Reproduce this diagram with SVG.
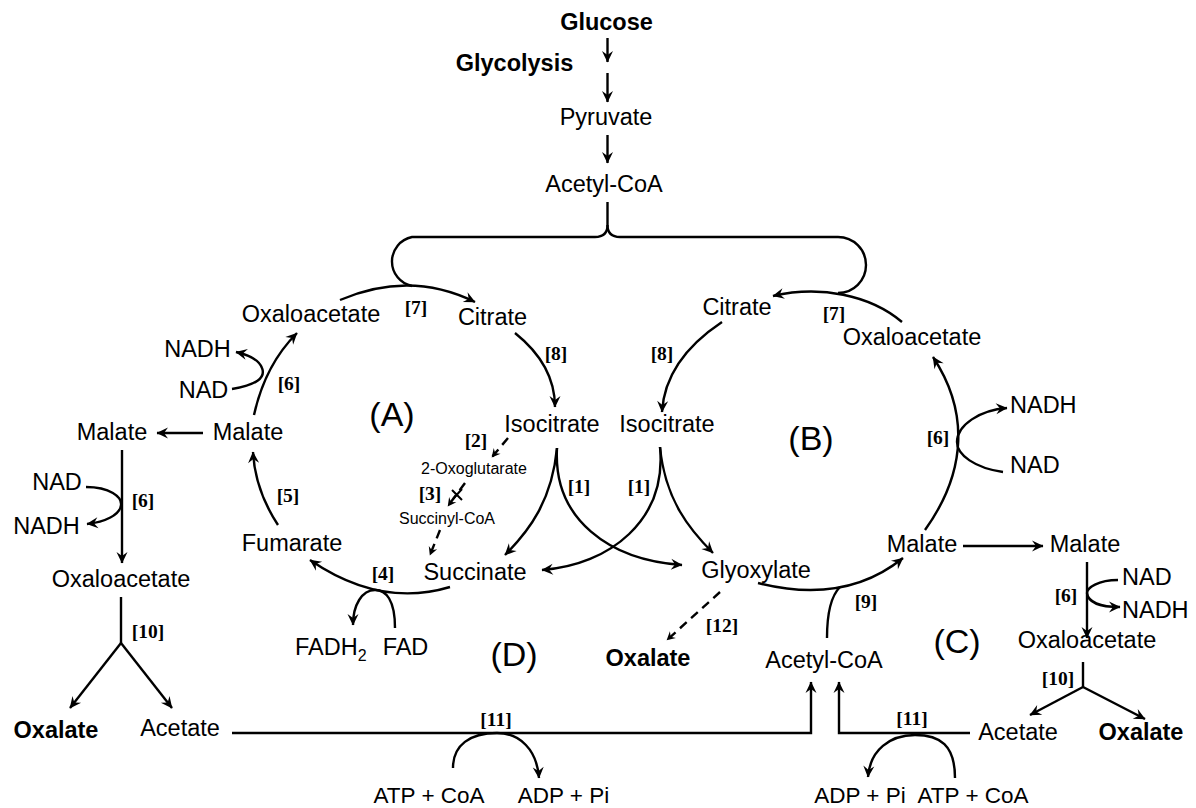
<svg xmlns="http://www.w3.org/2000/svg" width="1196" height="808" viewBox="0 0 1196 808">
<style>
text{font-family:"Liberation Sans",Arial,sans-serif;font-size:23.5px;fill:#000;text-anchor:middle}
.b{font-weight:bold}
.s{font-size:16px}
.st{text-anchor:start}
.e{font-size:22.5px}
.n{font-family:"Liberation Serif","Times New Roman",serif;font-weight:bold;font-size:19.5px}
.r{font-size:34px}
.c path,.c line{fill:none;stroke:#000;stroke-width:2.4}
.c .a{marker-end:url(#ah)}
.c .d{stroke-dasharray:9 6;marker-end:url(#sh)}
</style>
<defs>
<marker id="ah" viewBox="-12 -6 13 12" refX="0" refY="0" markerWidth="13" markerHeight="12" markerUnits="userSpaceOnUse" orient="auto">
<path d="M0.5,0 L-11,-5.5 L-7,0 L-11,5.5 Z" fill="#000"/>
</marker>
<marker id="sh" viewBox="-9 -5 10 10" refX="0" refY="0" markerWidth="10" markerHeight="10" markerUnits="userSpaceOnUse" orient="auto">
<path d="M0.5,0 L-8,-4.5 L-5,0 L-8,4.5 Z" fill="#000"/>
</marker>
</defs>
<rect width="1196" height="808" fill="#fff"/>
<g id="connectors" class="c">
<path class="a" d="M607.5,38 L607.5,62"/>
<path class="a" d="M607.5,73 L607.5,102"/>
<path class="a" d="M607.5,135 L607.5,163"/>
<path d="M607.5,202 L607.5,225 Q607.5,237 595,237 L412,237 A25,25 0 0 0 412,286"/>
<path d="M607.5,225 Q607.5,237 620,237 L838,237 A28,28 0 0 1 838,293"/>
<path class="a" d="M340,300 Q410,270 475,302"/>
<path class="a" d="M902,322 C870,295 820,285 773,296"/>
<path class="a" d="M515,333 Q555,365 555,407"/>
<path class="a" d="M722,322 Q665,360 662,412"/>
<path class="a" d="M254,415 Q265,365 297,333"/>
<path class="a" d="M232,389 Q268,383 262,368 Q258,357 236,352"/>
<path class="a" d="M278,525 Q255,490 253,452"/>
<path class="a" d="M450,587 Q380,608 310,560"/>
<path class="a" d="M395,628 C395,600 386,590 375,590 C362,590 353,605 353,625"/>
<path class="a" d="M557,448 C552,500 530,530 505,555"/>
<path class="a" d="M557,448 C553,520 610,560 682,565"/>
<path class="a" d="M660,447 C665,500 690,530 713,553"/>
<path class="a" d="M660,447 C667,520 610,565 542,570"/>
<path class="d" d="M508,438 L492,457"/>
<path class="d" d="M465,483 L448,506"/>
<path d="M452,490 L462,500 M462,489 L453,499" style="stroke-width:2"/>
<path class="d" d="M440,530 L430,555"/>
<path class="d" d="M720,592 L667,640"/>
<path class="a" d="M758,583 Q845,605 903,558"/>
<path d="M827,638 Q827,600 840,587"/>
<path class="a" d="M925,530 C968,470 968,410 933,357"/>
<path class="a" d="M1003,472 C975,468 957,455 957,442 C957,425 980,410 1007,408"/>
<path class="a" d="M963,546 L1043,546"/>
<path class="a" d="M1087,562 L1087,638"/>
<path class="a" d="M1118,580 C1098,580 1087,588 1087,593 C1088,602 1100,607 1120,607"/>
<path d="M1083,662 L1083,687"/>
<path class="a" d="M1083,687 L1030,715"/>
<path class="a" d="M1083,687 L1145,719"/>
<path class="a" d="M970,733 L839,733 L839,682"/>
<path class="a" d="M955,778 C955,745 940,735 915,735 C890,735 870,750 868,777"/>
<path class="a" d="M232,733 L811,733 L811,682"/>
<path class="a" d="M453,768 C453,745 470,733 497,733 C520,733 537,750 539,778"/>
<path class="a" d="M203,433 L157,433"/>
<path class="a" d="M122,450 L122,563"/>
<path class="a" d="M86,487 C110,487 122,497 121,505 C120,515 105,522 87,524"/>
<path d="M121,597 L121,643"/>
<path class="a" d="M121,643 L70,708"/>
<path class="a" d="M121,643 L172,708"/>
</g>
<g id="glucose"><text class="b" x="606.5" y="30">Glucose</text></g>
<g id="glycolysis"><text class="b" x="514.5" y="71">Glycolysis</text></g>
<g id="pyruvate"><text x="606" y="125">Pyruvate</text></g>
<g id="acetylcoa-top"><text x="604" y="192">Acetyl-CoA</text></g>
<g id="oaa-a"><text x="311" y="322">Oxaloacetate</text></g>
<g id="citrate-a"><text x="492.5" y="325">Citrate</text></g>
<g id="nadh-a"><text x="197.5" y="357">NADH</text></g>
<g id="nad-a"><text x="203.5" y="398">NAD</text></g>
<g id="malate-a"><text x="248" y="440">Malate</text></g>
<g id="malate-fl"><text x="112" y="440">Malate</text></g>
<g id="isocitrate-a"><text x="552" y="432">Isocitrate</text></g>
<g id="isocitrate-b"><text x="667" y="432">Isocitrate</text></g>
<g id="nad-fl"><text x="57" y="490">NAD</text></g>
<g id="nadh-fl"><text x="46.5" y="534">NADH</text></g>
<g id="fumarate"><text x="292" y="551">Fumarate</text></g>
<g id="oaa-fl"><text x="121" y="587">Oxaloacetate</text></g>
<g id="succinate"><text x="475" y="580">Succinate</text></g>
<g id="glyoxylate"><text x="756" y="578">Glyoxylate</text></g>
<g id="fadh2"><text class="st" x="295" y="655">FADH<tspan font-size="16" dy="6">2</tspan></text></g>
<g id="fad"><text x="405.5" y="655">FAD</text></g>
<g id="oxalate-fl"><text class="b" x="56" y="738">Oxalate</text></g>
<g id="acetate-fl"><text x="180" y="736">Acetate</text></g>
<g id="atp-l"><text class="e" x="429" y="803">ATP + CoA</text></g>
<g id="adp-l"><text class="e" x="563.5" y="803">ADP + Pi</text></g>
<g id="oxalate-d"><text class="b" x="648" y="666">Oxalate</text></g>
<g id="acetylcoa-c"><text x="824" y="668">Acetyl-CoA</text></g>
<g id="citrate-b"><text x="737" y="315">Citrate</text></g>
<g id="oaa-b"><text x="912" y="345">Oxaloacetate</text></g>
<g id="nadh-b"><text class="st" x="1010" y="413">NADH</text></g>
<g id="nad-b"><text class="st" x="1010" y="473">NAD</text></g>
<g id="malate-c"><text x="922" y="552">Malate</text></g>
<g id="malate-fr"><text x="1085" y="552">Malate</text></g>
<g id="nad-fr"><text class="st" x="1122" y="585">NAD</text></g>
<g id="nadh-fr"><text class="st" x="1122" y="618">NADH</text></g>
<g id="oaa-fr"><text x="1087" y="648">Oxaloacetate</text></g>
<g id="acetate-fr"><text x="1018" y="740">Acetate</text></g>
<g id="oxalate-fr"><text class="b" x="1141" y="740">Oxalate</text></g>
<g id="adp-r"><text class="e" x="860" y="803">ADP + Pi</text></g>
<g id="atp-r"><text class="e" x="973" y="803">ATP + CoA</text></g>
<g id="oxoglutarate"><text class="s" x="474" y="474">2-Oxoglutarate</text></g>
<g id="succinylcoa"><text class="s" x="447" y="524">Succinyl-CoA</text></g>
<g id="labels">
<text class="n" x="416" y="314">[7]</text>
<text class="n" x="556" y="360">[8]</text>
<text class="n" x="289" y="390">[6]</text>
<text class="n" x="143" y="507">[6]</text>
<text class="n" x="288" y="502">[5]</text>
<text class="n" x="383" y="580">[4]</text>
<text class="n" x="476" y="447">[2]</text>
<text class="n" x="430" y="500">[3]</text>
<text class="n" x="579" y="493">[1]</text>
<text class="n" x="639" y="493">[1]</text>
<text class="n" x="722" y="632">[12]</text>
<text class="n" x="148" y="638">[10]</text>
<text class="n" x="496" y="726">[11]</text>
<text class="n" x="866" y="608">[9]</text>
<text class="n" x="834" y="320">[7]</text>
<text class="n" x="662" y="360">[8]</text>
<text class="n" x="938" y="444">[6]</text>
<text class="n" x="1066" y="602">[6]</text>
<text class="n" x="1058" y="685">[10]</text>
<text class="n" x="912" y="725">[11]</text>
</g>
<g id="regions">
<text class="r" x="392" y="426">(A)</text>
<text class="r" x="811" y="450">(B)</text>
<text class="r" x="957" y="653">(C)</text>
<text class="r" x="514" y="666">(D)</text>
</g>
</svg>
